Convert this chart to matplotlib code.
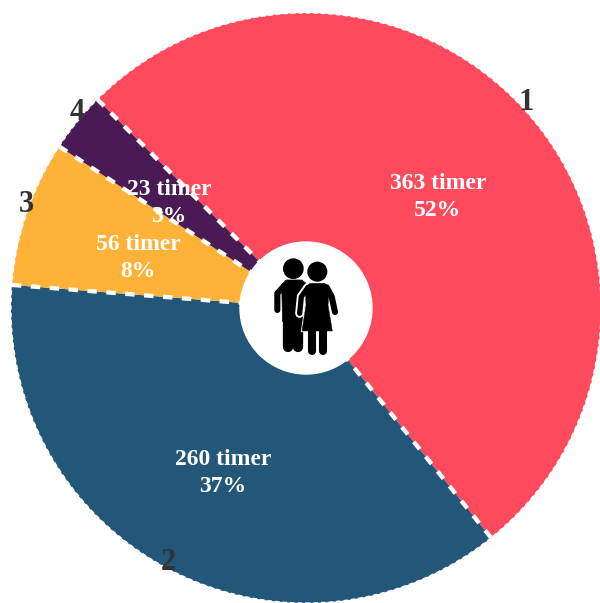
import matplotlib
matplotlib.use('Agg')
import matplotlib.pyplot as plt
import numpy as np
from matplotlib.patches import Circle, Polygon

categories = ['1', '2', '3', '4']
hours = [363, 260, 56, 23]
percents = [52, 37, 8, 3]
colors = ['#FF495C', '#22577A', '#FFB238', '#4A1A55']
unit = 'timer'

plt.rcParams['font.family'] = ['Liberation Serif', 'DejaVu Serif']

fig = plt.figure(figsize=(6, 6.03), dpi=100)

# centre and radius of the pie in pixels
r = 295
cx, cy = 306, 308

pax = fig.add_axes([0, 0, 1, 1])
wedges, _ = pax.pie(hours, colors=colors, startangle=135, counterclock=False, radius=1)
pax.set_aspect('equal')
pax.set_xlim((0 - cx) / r, (600 - cx) / r)
pax.set_ylim((cy - 603) / r, cy / r)
pax.axis('off')

# thin dashed rim
pax.add_patch(Circle((0, 0), 1, fill=False, edgecolor='white', linewidth=0.9,
                     linestyle=(0, (3.5, 2.5)), zorder=3))

# thick dashed separators between the slices
for w in wedges:
    a = np.deg2rad(w.theta1)
    pax.plot([np.cos(a), 0], [np.sin(a), 0], color='white', lw=3.1, zorder=4,
             linestyle=(0, (2.2, 2.2)), dash_capstyle='butt')

pax.add_patch(Circle((0, 0), 66 / r, color='white', zorder=5))


def px(x, y):
    return (x - cx) / r, (cy - y) / r


# value labels
label_pos = [(438, 197), (223, 473), (138, 258), (169, 203)]
for (x, y), h, p in zip(label_pos, hours, percents):
    pax.text(*px(x, y), f'{h} {unit}\n{p}%', color='white', fontsize=17, fontweight='bold',
             ha='center', va='center', linespacing=1.36, zorder=6)

# category labels
cat_pos = [(526, 102), (168, 562), (26, 205), (77, 113)]
for (x, y), c in zip(cat_pos, categories):
    pax.text(*px(x, y), c, color='#333333', fontsize=22, fontweight='bold',
             ha='center', va='center', zorder=6)


# people icon, coordinates taken in a 3x crop starting at (230, 230)
def z(x, y):
    return px(230 + x / 3, 230 + y / 3)


def stroke(points, lw, color='black', zorder=7):
    xs, ys = zip(*[z(*p) for p in points])
    pax.plot(xs, ys, color=color, lw=lw, zorder=zorder, solid_capstyle='round',
             solid_joinstyle='round')


def blob(points, zorder=7):
    pax.add_patch(Polygon([z(*p) for p in points], closed=True, facecolor='black',
                          edgecolor='black', linewidth=0.5, zorder=zorder))


# man
pax.add_patch(Circle(z(190, 116), 29 / 3 / r, color='black', zorder=7))
blob([(168, 150), (215, 150), (228, 160), (226, 275), (158, 275), (155, 165)])
stroke([(165, 165), (142, 190), (142, 240)], 4.4)
stroke([(175, 265), (175, 352)], 7.4)
stroke([(204, 265), (204, 352)], 7.4)

# woman, white outline first so she stands out from the man
pax.add_patch(Circle(z(262, 125), 28 / 3 / r, color='black', zorder=9))
outline = [(234, 172), (214, 200), (209, 250)]
stroke(outline, 6.5, color='white', zorder=8)
stroke(outline, 3.8, zorder=9)
skirt = [(240, 160), (284, 160), (298, 172), (294, 225), (307, 303),
         (216, 303), (228, 225), (226, 172)]
pax.add_patch(Polygon([z(*p) for p in skirt], closed=True, facecolor='black',
                      edgecolor='white', linewidth=1.6, zorder=8))
pax.add_patch(Polygon([z(*p) for p in skirt], closed=True, facecolor='black',
                      edgecolor='black', linewidth=0.3, zorder=9))
stroke([(290, 172), (305, 200), (315, 246)], 4.4, zorder=9)
stroke([(247, 300), (247, 364)], 5.8, zorder=9)
stroke([(279, 300), (279, 364)], 5.8, zorder=9)

fig.savefig('out.png', dpi=100)
